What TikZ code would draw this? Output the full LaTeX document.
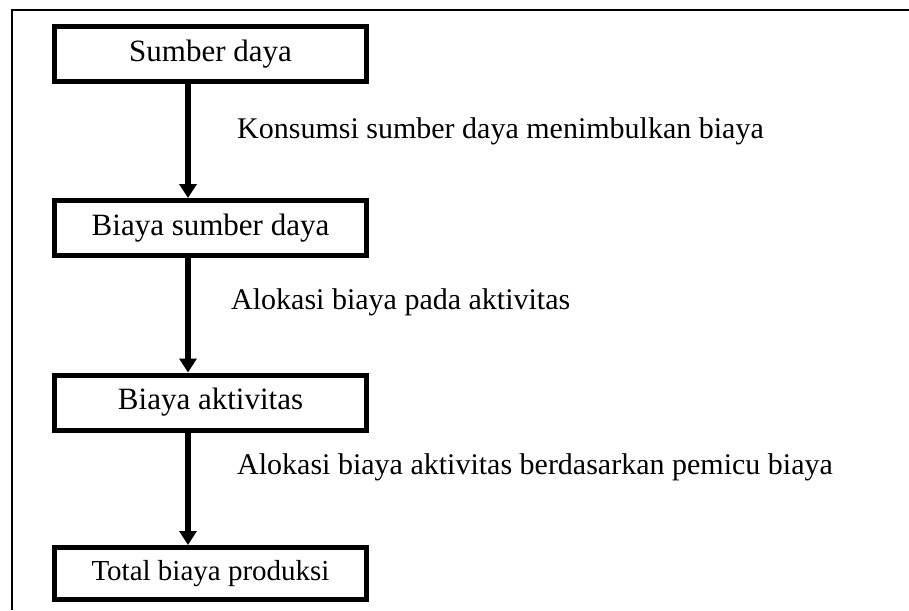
\documentclass[tikz,border=0pt]{standalone}
\usepackage{fontspec}
\setmainfont{Liberation Serif}
\usetikzlibrary{arrows.meta}
\begin{document}
\begin{tikzpicture}[x=1pt,y=-1pt,
  stagebox/.style={draw=black,line width=5pt,minimum width=312pt,minimum height=55pt,inner sep=0pt,font=\fontsize{31}{36}\selectfont},
  flowarrow/.style={line width=5.5pt,-{Triangle[width=17pt,length=14pt]}},
  steplabel/.style={anchor=west,inner sep=0pt,font=\fontsize{30}{34}\selectfont}]
\useasboundingbox (0,0) rectangle (909,610);
\draw[line width=2.5pt] (12,610) -- (12,10) -- (909,10);
\node[stagebox] (a) at (210.5,54) {Sumber daya};
\node[stagebox] (b) at (210.5,228) {Biaya sumber daya};
\node[stagebox] (c) at (210.5,402.5) {Biaya aktivitas};
\node[stagebox,minimum height=52pt,font=\fontsize{29}{34}\selectfont] (d) at (210.5,573.5) {Total biaya produksi};
\draw[flowarrow] (a.south -| 188,0) -- (b.north -| 188,0);
\draw[flowarrow] (b.south -| 188,0) -- (c.north -| 188,0);
\draw[flowarrow] (c.south -| 188,0) -- (d.north -| 188,0);
\node[steplabel] (la) at (237,131) {Konsumsi sumber daya menimbulkan biaya};
\node[steplabel] (lb) at (231,302) {Alokasi biaya pada aktivitas};
\node[steplabel] (lc) at (237,467) {Alokasi biaya aktivitas berdasarkan pemicu biaya};
\end{tikzpicture}
\end{document}
